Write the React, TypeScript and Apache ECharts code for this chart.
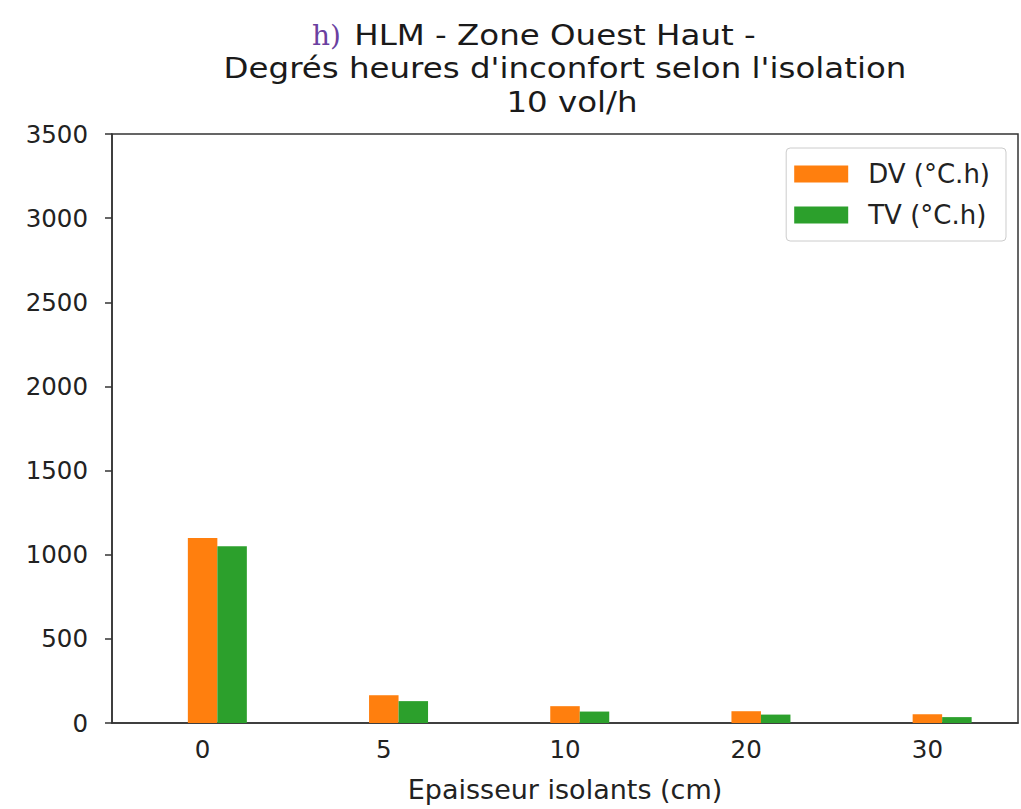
import React, { useEffect, useRef } from "react";
import * as echarts from "echarts";

const categories = ["0", "5", "10", "20", "30"];
const dvValues = [1100, 165, 100, 70, 52];
const tvValues = [1050, 130, 68, 50, 35];
const spacerValues = [null, null, null, null, null];
const yTicks = { min: 0, max: 3500, interval: 500 };

const FONT = "DejaVu Sans";

export default function App() {
  const ref = useRef<HTMLDivElement>(null);
  useEffect(() => {
    if (!ref.current) return;
    const chart = echarts.init(ref.current, null, { renderer: "svg" });
    const titleStyle = { fontFamily: FONT, fontSize: 29, fill: "#1a1a1a", align: "center", verticalAlign: "middle" };
    chart.setOption({
      animation: false,
      backgroundColor: "#fff",
      textStyle: { fontFamily: FONT },
      graphic: [
        {
          type: "text",
          x: 341, y: 35,
          style: { text: "h)", fontFamily: "DejaVu Serif", fontSize: 28, fill: "#6b3fa0", align: "right", verticalAlign: "middle" },
        },
        {
          type: "text",
          x: 555, y: 35, scaleX: 1.12,
          style: { ...titleStyle, text: "HLM - Zone Ouest Haut -" },
        },
        {
          type: "text",
          x: 565, y: 68, scaleX: 1.12,
          style: { ...titleStyle, text: "Degrés heures d'inconfort selon l'isolation" },
        },
        {
          type: "text",
          x: 572, y: 102, scaleX: 1.12,
          style: { ...titleStyle, text: "10 vol/h" },
        },
      ],
      grid: {
        left: 112, top: 134, right: 3, bottom: 86,
        show: true, borderColor: "#333", borderWidth: 1.5, backgroundColor: "transparent",
      },
      legend: {
        data: ["DV (°C.h)", "TV (°C.h)"],
        orient: "vertical",
        right: 15, top: 148,
        icon: "rect",
        itemWidth: 54, itemHeight: 17, itemGap: 15,
        padding: [13, 16, 13, 8],
        borderColor: "#cccccc", borderWidth: 1, borderRadius: 4,
        backgroundColor: "#fff",
        textStyle: { fontFamily: FONT, fontSize: 26, color: "#222", padding: [0, 0, 0, 15] },
      },
      xAxis: {
        type: "category",
        data: categories,
        name: "Epaisseur isolants (cm)",
        nameLocation: "middle",
        nameGap: 53,
        nameTextStyle: { fontFamily: FONT, fontSize: 27, color: "#222" },
        axisLine: { lineStyle: { color: "#333", width: 1.5 } },
        axisTick: { alignWithLabel: true, length: 7, lineStyle: { color: "#333", width: 1.5 } },
        axisLabel: { fontFamily: FONT, fontSize: 24.5, color: "#222", margin: 14 },
        splitLine: { show: false },
      },
      yAxis: {
        type: "value",
        min: yTicks.min, max: yTicks.max, interval: yTicks.interval,
        axisLine: { show: true, lineStyle: { color: "#333", width: 1.5 } },
        axisTick: { show: true, length: 7, lineStyle: { color: "#333", width: 1.5 } },
        axisLabel: { fontFamily: FONT, fontSize: 24.5, color: "#222", margin: 24, formatter: (v: number) => String(v) },
        splitLine: { show: false },
      },
      series: [
        { name: "_spacer", type: "bar", data: spacerValues, barWidth: 29.5, barGap: "0%", itemStyle: { color: "transparent" } },
        { name: "DV (°C.h)", type: "bar", data: dvValues, barWidth: 29.5, barGap: "0%", itemStyle: { color: "#ff7f0e" } },
        { name: "TV (°C.h)", type: "bar", data: tvValues, barWidth: 29.5, barGap: "0%", itemStyle: { color: "#2ca02c" } },
      ],
    });
    return () => chart.dispose();
  }, []);
  return (
    <div
      ref={ref}
      style={{ position: "absolute", left: 0, top: 0, width: 1021, height: 809 }}
    />
  );
}
